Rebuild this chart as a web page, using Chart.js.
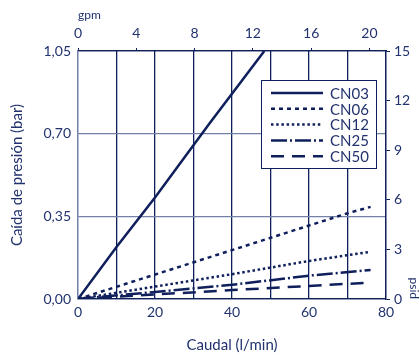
<!DOCTYPE html>
<html>
<head>
<meta charset="utf-8">
<style>
  html, body { margin: 0; padding: 0; background: #ffffff; }
  #wrap { width: 420px; height: 355px; }
</style>
<script src="https://cdn.jsdelivr.net/npm/chart.js@4/dist/chart.umd.min.js"></script>
</head>
<body>
<div id="wrap"><canvas id="dropChart" width="420" height="355"></canvas></div>
<script>
// Series names and values (flow in l/min, pressure drop in bar)
const seriesNames = ['CN03', 'CN06', 'CN12', 'CN25', 'CN50'];

const cn03Flow = [0, 10, 20, 34, 48.4];
const cn03Drop = [0, 0.22, 0.43, 0.74, 1.05];

const cn06Flow = [0, 40, 70, 76];
const cn06Drop = [0, 0.207, 0.363, 0.39];

const cn12Flow = [0, 40, 60, 76];
const cn12Drop = [0, 0.105, 0.161, 0.20];

const cn25Flow = [0, 40, 60, 76];
const cn25Drop = [0, 0.06, 0.099, 0.123];

const cn50Flow = [0, 40, 60, 75];
const cn50Drop = [0, 0.038, 0.055, 0.069];

// Axis ranges and tick labels
const flowMax = 80;
const dropMax = 1.05;
const gpmMax = 80 / 3.785;   // top axis: same flow range in US gallons per minute
const gpmTicks = [0, 4, 8, 12, 16, 20];
const psidMax = 15;

const navy = '#0f1f5c';
const textNavy = '#22326e';
const softGrid = '#7381a6';

// Dash patterns per series, same order as seriesNames
const dashes = [[], [4, 4], [2.5, 2.7], [16, 3, 2, 3], [13, 8]];

function toPoints(xs, ys) {
    return xs.map((x, i) => ({ x: x, y: ys[i] }));
}

const seriesData = [
    toPoints(cn03Flow, cn03Drop),
    toPoints(cn06Flow, cn06Drop),
    toPoints(cn12Flow, cn12Drop),
    toPoints(cn25Flow, cn25Drop),
    toPoints(cn50Flow, cn50Drop)
];

const datasets = seriesNames.map((name, i) => ({
    label: name,
    data: seriesData[i],
    borderColor: navy,
    borderWidth: 2.5,
    borderDash: dashes[i],
    pointRadius: 0,
    fill: false,
    tension: 0
}));

// Legend drawn as a boxed panel inside the plot, like the reference
const boxLegend = {
    id: 'boxLegend',
    afterDatasetsDraw(chart) {
        const ctx = chart.ctx;
        const left = 261, top = 80, width = 115, height = 88;
        ctx.save();
        ctx.fillStyle = '#ffffff';
        ctx.fillRect(left, top, width, height);
        ctx.strokeStyle = navy;
        ctx.lineWidth = 1;
        ctx.strokeRect(left + 0.5, top + 0.5, width, height);

        chart.data.datasets.forEach((ds, i) => {
            const y = 93 + i * 15.8;
            ctx.beginPath();
            ctx.setLineDash(ds.borderDash);
            ctx.lineWidth = ds.borderWidth;
            ctx.strokeStyle = ds.borderColor;
            ctx.moveTo(271, y);
            ctx.lineTo(323, y);
            ctx.stroke();
            ctx.setLineDash([]);
            ctx.fillStyle = textNavy;
            ctx.font = '15px Lato';
            ctx.textBaseline = 'middle';
            ctx.fillText(ds.label, 330, y + 1);
        });
        ctx.restore();
    }
};

function fixSize(prop, size) {
    return scale => { scale[prop] = size; };
}

new Chart(document.getElementById('dropChart').getContext('2d'), {
    type: 'line',
    data: { datasets: datasets },
    options: {
        responsive: false,
        animation: false,
        layout: { padding: 0 },
        plugins: {
            legend: { display: false },
            tooltip: { enabled: false }
        },
        scales: {
            x: {
                type: 'linear',
                position: 'bottom',
                min: 0,
                max: flowMax,
                afterFit: fixSize('height', 56),
                ticks: {
                    stepSize: 10,
                    autoSkip: false,
                    maxRotation: 0,
                    padding: 5,
                    color: textNavy,
                    font: { family: 'Lato', size: 14 },
                    callback: v => (v % 20 === 0 ? String(v) : '')
                },
                grid: {
                    drawTicks: false,
                    lineWidth: 1.3,
                    color: ctx => (ctx.tick && ctx.tick.value === 0 ? softGrid : navy)
                },
                border: { color: navy, width: 1.3 },
                title: {
                    display: true,
                    text: 'Caudal (l/min)',
                    color: textNavy,
                    font: { family: 'Lato', size: 15 },
                    padding: { top: 0, bottom: 1 }
                }
            },
            x2: {
                type: 'linear',
                position: 'top',
                min: 0,
                max: gpmMax,
                afterFit: fixSize('height', 51),
                afterBuildTicks: scale => {
                    scale.ticks = gpmTicks.map(v => ({ value: v }));
                },
                ticks: {
                    autoSkip: false,
                    maxRotation: 0,
                    padding: 6,
                    color: textNavy,
                    font: { family: 'Lato', size: 14 }
                },
                grid: {
                    drawOnChartArea: false,
                    tickLength: 3,
                    color: navy
                },
                border: { color: navy, width: 1.3 },
                title: {
                    display: true,
                    text: 'gpm',
                    align: 'start',
                    color: textNavy,
                    font: { family: 'Lato', size: 12 },
                    padding: { top: 8, bottom: 0 }
                }
            },
            y: {
                type: 'linear',
                position: 'left',
                min: 0,
                max: dropMax,
                afterFit: fixSize('width', 78),
                ticks: {
                    stepSize: 0.35,
                    padding: 7,
                    color: textNavy,
                    font: { family: 'Lato', size: 14 },
                    callback: v => v.toFixed(2).replace('.', ',')
                },
                grid: {
                    drawTicks: false,
                    lineWidth: 1.3,
                    color: ctx => {
                        const v = ctx.tick ? ctx.tick.value : 0;
                        return (v === 0 || Math.abs(v - dropMax) < 1e-6) ? navy : softGrid;
                    }
                },
                border: { color: softGrid, width: 1.3 },
                title: {
                    display: true,
                    text: 'Caída de presión (bar)',
                    color: textNavy,
                    font: { family: 'Lato', size: 15 },
                    padding: { top: 8, bottom: 0 }
                }
            },
            y2: {
                type: 'linear',
                position: 'right',
                min: 0,
                max: psidMax,
                afterFit: fixSize('width', 34),
                ticks: {
                    stepSize: 3,
                    padding: 4,
                    color: textNavy,
                    font: { family: 'Lato', size: 14 }
                },
                grid: {
                    drawOnChartArea: false,
                    tickLength: 4,
                    color: navy
                },
                border: { color: navy, width: 1.3 },
                title: {
                    display: true,
                    text: 'psid',
                    align: 'start',
                    color: textNavy,
                    font: { family: 'Lato', size: 12, lineHeight: 1 },
                    padding: 0
                }
            }
        }
    },
    plugins: [boxLegend]
});
</script>
</body>
</html>
